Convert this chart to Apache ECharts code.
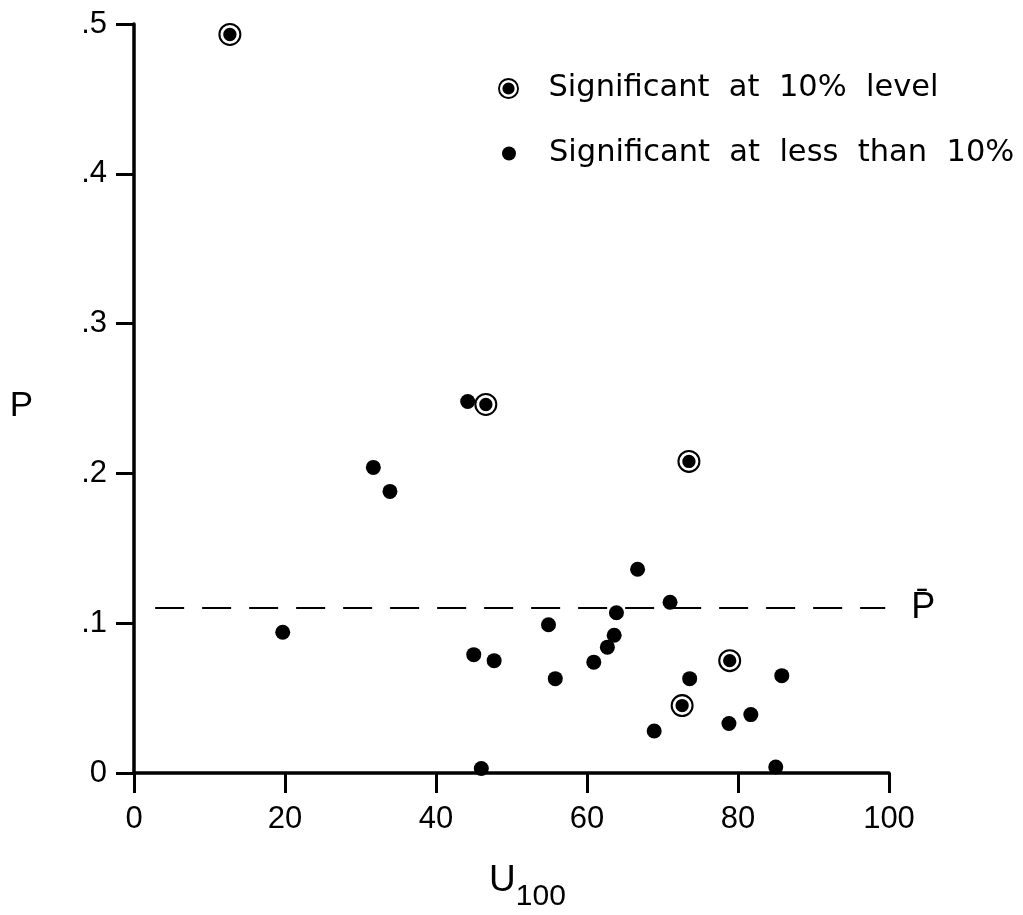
<!DOCTYPE html>
<html>
<head>
<meta charset="utf-8">
<script src="https://cdn.jsdelivr.net/npm/echarts@6/dist/echarts.min.js"></script>
<style>
  html, body { margin: 0; padding: 0; background: #ffffff; }
  #chart { width: 1023px; height: 915px; }
</style>
</head>
<body>
<div id="chart"></div>
<script>
// Points significant at the 10% level (drawn as a dot inside a ring)
const circledU = [12.7, 46.6, 73.5, 78.9, 72.6];
const circledP = [0.493, 0.246, 0.208, 0.075, 0.045];

// Points significant at less than 10% (plain dots)
const dotU = [44.2, 31.7, 33.9, 19.7, 45.0, 47.7, 46.0, 66.7, 71.0, 63.9, 54.9,
              63.6, 62.7, 60.9, 55.8, 73.6, 85.8, 81.7, 78.8, 68.9, 85.0];
const dotP = [0.248, 0.204, 0.188, 0.094, 0.079, 0.075, 0.003, 0.136, 0.114, 0.107, 0.099,
              0.092, 0.084, 0.074, 0.063, 0.063, 0.065, 0.039, 0.033, 0.028, 0.004];

// Mean P and the extent of the dashed reference line
const meanP = 0.11;
const meanSpan = [2.8, 99.5];

// Axis ranges and ticks
const xRange = [0, 100], xStep = 20;
const yRange = [0, 0.5], yStep = 0.1;

const seriesNames = ['Significant at 10% level', 'Significant at less than 10%'];

// ring + dot in a single path (outer CW, hole CCW, dot CW)
const ringDot = 'path://M50,0 A50,50 0 1,1 50,100 A50,50 0 1,1 50,0 Z ' +
                'M50,9 A41,41 0 1,0 50,91 A41,41 0 1,0 50,9 Z ' +
                'M50,21 A29,29 0 1,1 50,79 A29,29 0 1,1 50,21 Z';

const sans = 'Liberation Sans, Arial, sans-serif';
const legendFont = 'DejaVu Sans, sans-serif';

const chart = echarts.init(document.getElementById('chart'), null, { renderer: 'canvas' });

const spaced = s => s.split(' ').join('  ');

chart.setOption({
  animation: false,
  backgroundColor: '#ffffff',
  grid: { left: 134, right: 134, top: 24, bottom: 142, outerBoundsMode: 'none' },
  legend: [
    {
      data: [{ name: seriesNames[0], icon: ringDot }],
      orient: 'vertical', left: 498, top: 73, padding: 0,
      itemWidth: 70, itemHeight: 21, symbolKeepAspect: true,
      selectedMode: false,
      formatter: spaced,
      textStyle: { fontFamily: legendFont, fontSize: 30.5, color: '#000', lineHeight: 30 }
    },
    {
      data: [{ name: seriesNames[1], icon: 'circle' }],
      orient: 'vertical', left: 502, top: 138, padding: 0,
      itemWidth: 70, itemHeight: 14, symbolKeepAspect: true,
      selectedMode: false,
      formatter: spaced,
      textStyle: { fontFamily: legendFont, fontSize: 30.5, color: '#000', lineHeight: 30 }
    }
  ],
  xAxis: {
    type: 'value',
    min: xRange[0], max: xRange[1], interval: xStep,
    name: '{u|U}{s|100}',
    nameLocation: 'middle',
    nameGap: 77,
    nameTextStyle: {
      padding: [0, 0, 0, 32],
      rich: {
        u: { fontFamily: sans, fontSize: 37, color: '#000' },
        s: { fontFamily: sans, fontSize: 30, color: '#000', padding: [32, 0, 0, 0] }
      }
    },
    splitLine: { show: false },
    axisLine: { show: true, onZero: false, lineStyle: { color: '#000', width: 3.5 } },
    axisTick: { show: true, inside: false, length: 20, lineStyle: { color: '#000', width: 3 } },
    axisLabel: { margin: 31, fontFamily: sans, fontSize: 31, color: '#000' }
  },
  yAxis: {
    type: 'value',
    min: yRange[0], max: yRange[1], interval: yStep,
    name: '{p|P}',
    nameLocation: 'middle',
    nameRotate: 0,
    nameGap: 101,
    nameTextStyle: {
      rich: { p: { fontFamily: sans, fontSize: 35, color: '#000', padding: [16, 0, 0, 0] } }
    },
    splitLine: { show: false },
    axisLine: { show: true, onZero: false, lineStyle: { color: '#000', width: 3.5 } },
    axisTick: { show: true, inside: false, length: 18, lineStyle: { color: '#000', width: 3 } },
    axisLabel: {
      margin: 27, fontFamily: sans, fontSize: 31, color: '#000',
      formatter: v => v === 0 ? '0' : '.' + Math.round(v * 10)
    }
  },
  series: [
    {
      name: seriesNames[1],
      type: 'scatter',
      symbol: 'circle',
      symbolSize: 15,
      itemStyle: { color: '#000', opacity: 1 },
      data: dotU.map((u, i) => [u, dotP[i]]),
      markLine: {
        silent: true,
        symbol: 'none',
        lineStyle: { color: '#000', width: 2, type: [29, 18] },
        label: {
          show: true, position: 'end', distance: 26,
          formatter: 'P\u0304',
          fontFamily: sans, fontSize: 36, color: '#000'
        },
        data: [[{ coord: [meanSpan[0], meanP] }, { coord: [meanSpan[1], meanP] }]]
      },
      z: 2
    },
    {
      name: seriesNames[0],
      type: 'scatter',
      symbol: ringDot,
      symbolSize: 23,
      itemStyle: { color: '#000', opacity: 1 },
      data: circledU.map((u, i) => [u, circledP[i]]),
      z: 3
    }
  ]
});
</script>
</body>
</html>
